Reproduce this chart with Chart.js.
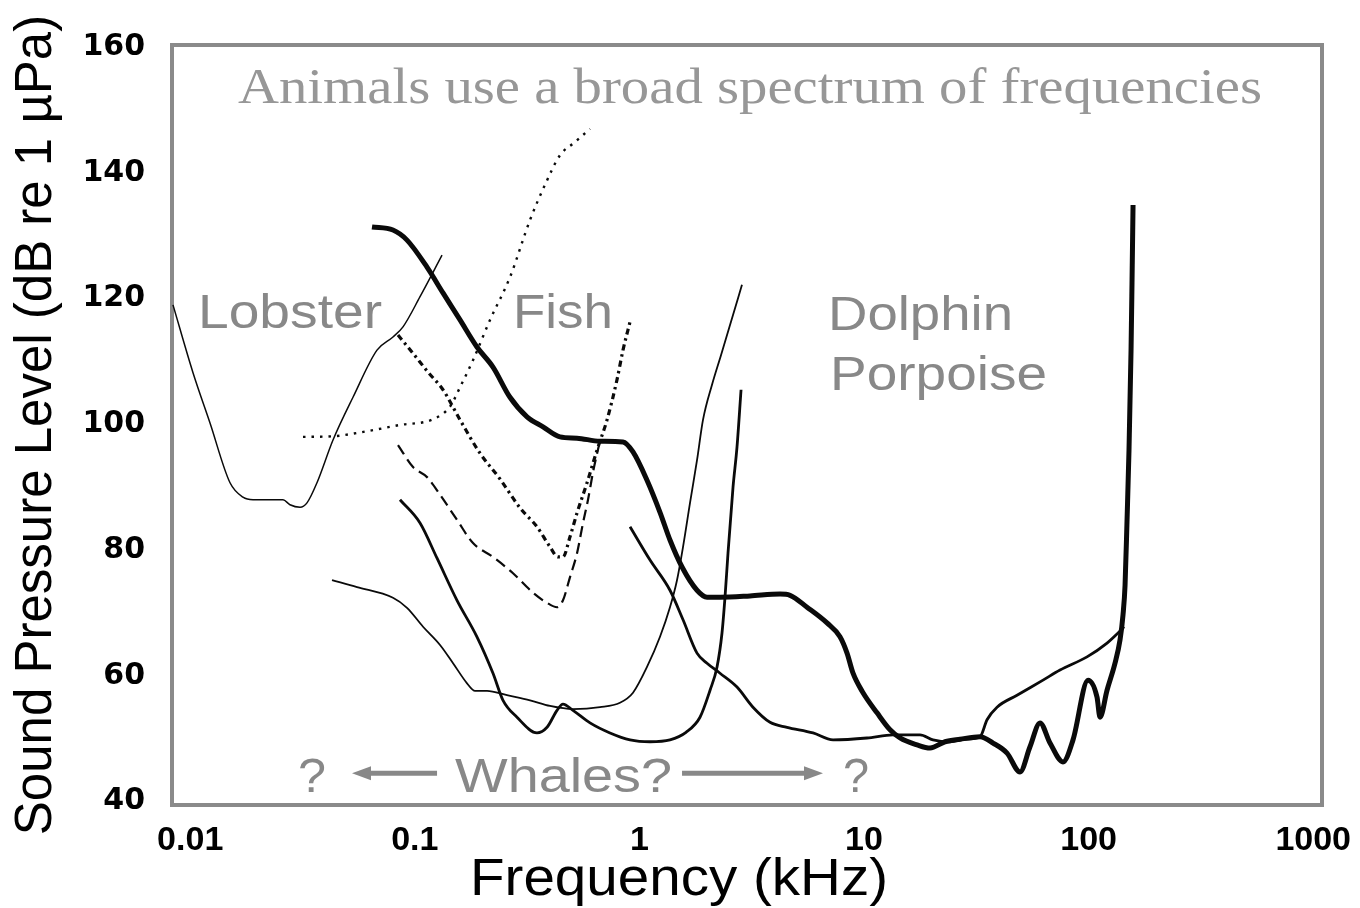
<!DOCTYPE html>
<html><head><meta charset="utf-8">
<script src="https://cdn.jsdelivr.net/npm/chart.js@4.4.1/dist/chart.umd.min.js"></script>
<style>html,body{margin:0;padding:0;background:#fff;}canvas{display:block;}</style>
</head><body>
<canvas id="c" width="1360" height="908"></canvas>
<script>
// ---- data (frequency in kHz, level in dB re 1 µPa) ----
const xTickValues = [0.01, 0.1, 1, 10, 100, 1000];
const xTickLabels = ['0.01', '0.1', '1', '10', '100', '1000'];
const yTickValues = [40, 60, 80, 100, 120, 140, 160];

const lobsterFreq  = [0.00838,0.01029,0.01225,0.01504,0.01718,0.01904,0.02589,0.02781,0.03083,0.03311,0.03668,0.04323,0.05306,0.06786,0.07994,0.0886,0.1055,0.1322];
const lobsterLevel = [119.0,108.2,100.2,90.7,88.4,88.0,88.0,87.2,86.8,87.5,90.7,97.5,104.3,111.8,113.9,115.5,120.3,126.9];

const fishDotFreq  = [0.03178,0.04323,0.06126,0.0859,0.1205,0.1434,0.159,0.1816,0.2162,0.2653,0.3258,0.3799,0.443,0.5168,0.6026];
const fishDotLevel = [98.0,98.1,98.9,99.9,100.8,102.8,105.9,110.2,116.6,123.4,132.5,138.1,142.8,144.9,147.0];

const fishDashDotFreq  = [0.08416,0.09817,0.1145,0.1335,0.159,0.1951,0.2395,0.294,0.3499,0.3999,0.4341,0.4568,0.4909,0.5276,0.5845,0.6475,0.7175,0.7949,0.8451,0.9083];
const fishDashDotLevel = [114.2,111.3,108.3,105.5,100.7,95.4,91.3,86.7,83.7,80.5,78.9,78.9,82.1,85.9,90.7,95.9,100.7,107.1,111.8,116.3];

const fishDashFreq  = [0.08416,0.09817,0.1133,0.1295,0.1541,0.1816,0.2229,0.2737,0.336,0.3878,0.4297,0.4568,0.4909,0.5276,0.5609,0.5904,0.6216,0.6609];
const fishDashLevel = [96.7,93.2,91.6,88.8,84.8,81.1,78.9,76.3,73.2,71.6,70.9,72.0,75.7,79.5,84.3,88.0,92.4,96.7];

const whaleAFreq  = [0.0859,0.1055,0.1256,0.1541,0.1891,0.2229,0.247,0.2851,0.3499,0.3878,0.4297,0.4568,0.5061,0.6026,0.7398,0.9083,1.115,1.368,1.612,1.861,2.063,2.216,2.332,2.405,2.48,2.611,2.72,2.835];
const whaleALevel = [88.0,84.3,78.7,72.0,66.2,60.4,56.1,53.4,50.9,51.8,54.5,55.5,54.5,52.5,50.9,49.8,49.5,49.8,51.0,53.4,57.7,61.4,66.8,72.5,79.5,90.0,96.4,105.5];

const whaleBFreq  = [0.04279,0.05529,0.07994,0.09232,0.1088,0.1295,0.148,0.1708,0.1854,0.2097,0.2573,0.3258,0.3999,0.5061,0.6677,0.8194,0.9365,1.081,1.235,1.368,1.47,1.564,1.68,1.805,1.919,2.105,2.308,2.557,2.862];
const whaleBLevel = [75.2,74.1,72.4,70.8,67.8,64.9,62.0,58.8,57.6,57.6,56.9,56.1,55.2,54.7,55.0,55.7,57.3,61.4,66.2,70.9,75.2,80.5,87.5,94.3,100.7,106.3,111.0,116.3,122.2];

const porpoiseFreq  = [0.9083,1.115,1.368,1.564,1.805,2.0,2.285,2.72,3.204,3.815,4.542,5.929,7.278,10.31,13.47,17.76,20.28,24.15,28.17,32.86,35.3,39.1,48.0,62.66,74.59,98.38,120.8,135.2,143.8];
const porpoiseLevel = [83.7,78.4,73.6,68.9,63.6,62.0,60.4,58.2,55.0,52.6,51.8,50.9,49.8,50.1,50.6,50.6,49.8,49.5,49.9,50.3,53.0,55.0,56.9,59.3,60.9,63.0,65.2,66.8,67.8];

const dolphinFreq  = [0.06447,0.07994,0.09232,0.1133,0.1335,0.159,0.1891,0.2229,0.2653,0.3159,0.3723,0.443,0.5276,0.6677,0.8451,0.9365,1.081,1.235,1.368,1.548,1.805,2.0,2.285,3.108,4.227,4.684,5.575,6.843,7.817,8.403,8.935,9.899,11.43,13.06,14.47,17.22,19.68,22.95,26.76,32.86,37.53,43.33,49.5,54.83,60.75,67.32,76.91,85.22,99.4,109.0,112.4,120.8,131.1,138.0,142.3,145.3,148.3,151.3,154.5,156.1,157.7];
const dolphinLevel = [131.4,130.9,129.3,125.0,120.9,116.6,112.3,109.1,104.3,101.2,99.6,98.0,97.8,97.3,97.2,95.6,91.1,86.0,81.6,77.3,73.6,72.5,72.5,72.7,73.0,72.8,70.9,68.4,66.2,63.6,60.4,57.3,54.1,51.4,50.1,49.0,48.5,49.5,49.9,50.3,49.3,47.7,44.7,48.7,52.5,49.3,46.3,49.8,59.3,56.6,53.4,57.7,62.0,65.7,69.7,74.4,84.8,95.9,111.8,123.0,134.9];

// ---- annotations (anchored in data units) ----
const SANS = '"Liberation Sans", Arial, sans-serif';
const notes = [
  {text:'Animals use a broad spectrum of frequencies', from:0.01632, to:591.6, base:151.1, font:'50px "Liberation Serif", "Times New Roman", serif', color:'#979797'},
  {text:'Lobster',  from:0.01083, to:0.07145, base:115.3, font:'49px ' + SANS, color:'#888888'},
  {text:'Fish',     from:0.2737,  to:0.7628,  base:115.3, font:'49px ' + SANS, color:'#888888'},
  {text:'Dolphin',  from:6.914,   to:46.07,   base:115.0, font:'49px ' + SANS, color:'#888888'},
  {text:'Porpoise', from:7.057,   to:65.28,   base:105.5, font:'49px ' + SANS, color:'#888888'},
  {text:'?',        from:0.0302,  to:0.04023, base:41.5,  font:'49px ' + SANS, color:'#888888'},
  {text:'Whales?',  from:0.151,   to:1.397,   base:41.5,  font:'49px ' + SANS, color:'#888888'},
  {text:'?',        from:8.064,   to:10.53,   base:41.5,  font:'49px ' + SANS, color:'#888888'},
  // x-axis title
  {text:'Frequency (kHz)', from:0.1761, to:12.79, base:25.1, font:'51px ' + SANS, color:'#000000'}
];
const arrows = [
  {tip:0.05253, tail:0.1256, level:44.5},
  {tip:6.569,   tail:1.548,  level:44.5}
];

const pts = (xs, ys) => xs.map((x, i) => ({x: x, y: ys[i]}));
function lineSet(label, xs, ys, width, dash) {
  return {label: label, data: pts(xs, ys), borderColor: '#0a0a0a', borderWidth: width,
          borderDash: dash, pointRadius: 0, fill: false, cubicInterpolationMode: 'monotone',
          borderCapStyle: 'butt', borderJoinStyle: 'round'};
}

const framePlugin = {
  id: 'frame',
  beforeDraw(chart) {
    const ctx = chart.ctx;
    ctx.save(); ctx.fillStyle = '#fff'; ctx.fillRect(0, 0, chart.width, chart.height); ctx.restore();
  },
  beforeDatasetsDraw(chart) {
    const {ctx, chartArea: a} = chart;
    ctx.save();
    ctx.strokeStyle = '#8a8a8a'; ctx.lineWidth = 4;
    ctx.strokeRect(a.left, a.top, a.right - a.left, a.bottom - a.top);
    ctx.restore();
  },
  afterDatasetsDraw(chart) {
    const ctx = chart.ctx, xs = chart.scales.x, ys = chart.scales.y;
    notes.forEach(n => {
      const x0 = xs.getPixelForValue(n.from), x1 = xs.getPixelForValue(n.to);
      const yb = ys.getPixelForValue(n.base);
      ctx.save();
      ctx.font = n.font; ctx.fillStyle = n.color;
      ctx.textAlign = 'left'; ctx.textBaseline = 'alphabetic';
      const w = ctx.measureText(n.text).width;
      ctx.translate(x0, yb); ctx.scale((x1 - x0) / w, 1);
      ctx.fillText(n.text, 0, 0);
      ctx.restore();
    });
    arrows.forEach(a => {
      const xt = xs.getPixelForValue(a.tip), xl = xs.getPixelForValue(a.tail);
      const y = ys.getPixelForValue(a.level);
      const dir = xl > xt ? 1 : -1;
      ctx.save();
      ctx.strokeStyle = '#888'; ctx.fillStyle = '#888'; ctx.lineWidth = 5;
      ctx.beginPath(); ctx.moveTo(xl, y); ctx.lineTo(xt + dir * 14, y); ctx.stroke();
      ctx.beginPath(); ctx.moveTo(xt, y); ctx.lineTo(xt + dir * 19, y - 7); ctx.lineTo(xt + dir * 19, y + 7); ctx.closePath(); ctx.fill();
      ctx.restore();
    });
  }
};

new Chart(document.getElementById('c'), {
  type: 'line',
  data: {
    datasets: [
      lineSet('Lobster', lobsterFreq, lobsterLevel, 1.5, []),
      lineSet('Fish (dotted)', fishDotFreq, fishDotLevel, 2.4, [2.5, 6]),
      lineSet('Fish (dash-dot)', fishDashDotFreq, fishDashDotLevel, 3.2, [6, 4, 2.5, 4]),
      lineSet('Fish (dashed)', fishDashFreq, fishDashLevel, 2.2, [11, 6]),
      lineSet('Whale A', whaleAFreq, whaleALevel, 2.8, []),
      lineSet('Whale B', whaleBFreq, whaleBLevel, 1.8, []),
      lineSet('Porpoise', porpoiseFreq, porpoiseLevel, 2.8, []),
      lineSet('Dolphin', dolphinFreq, dolphinLevel, 5, [])
    ]
  },
  options: {
    responsive: false, animation: false, devicePixelRatio: 1,
    layout: {padding: {top: 45, right: 38, left: 0, bottom: 0}},
    plugins: {legend: {display: false}, tooltip: {enabled: false}},
    scales: {
      x: {
        type: 'logarithmic', min: 0.008297, max: 1094.3,
        grid: {display: false, drawTicks: false}, border: {display: false},
        afterBuildTicks: s => { s.ticks = xTickValues.map(v => ({value: v})); },
        afterFit: s => { s.height = 103; s.paddingLeft = 0; s.paddingRight = 0; },
        ticks: {autoSkip: false, maxRotation: 0, minRotation: 0, padding: 15, color: '#000',
                font: {family: SANS, size: 34, weight: 'bold'},
                callback: (v, i) => xTickLabels[i]},
        title: {display: false, text: 'Frequency (kHz)'}
      },
      y: {
        type: 'linear', min: 39.44, max: 160.34,
        grid: {display: false, drawTicks: false}, border: {display: false},
        afterBuildTicks: s => { s.ticks = yTickValues.map(v => ({value: v})); },
        afterFit: s => { s.width = 172; s.paddingTop = 0; s.paddingBottom = 0; },
        ticks: {autoSkip: false, padding: 27, color: '#000',
                font: {family: '"DejaVu Sans", sans-serif', size: 30, weight: 'bold'},
                callback: (v, i) => String(yTickValues[i])},
        title: {display: true, text: 'Sound Pressure Level (dB re 1 µPa)', color: '#000',
                font: {family: SANS, size: 51}, padding: {top: 6, bottom: 0}}
      }
    }
  },
  plugins: [framePlugin]
});
</script>
</body></html>
